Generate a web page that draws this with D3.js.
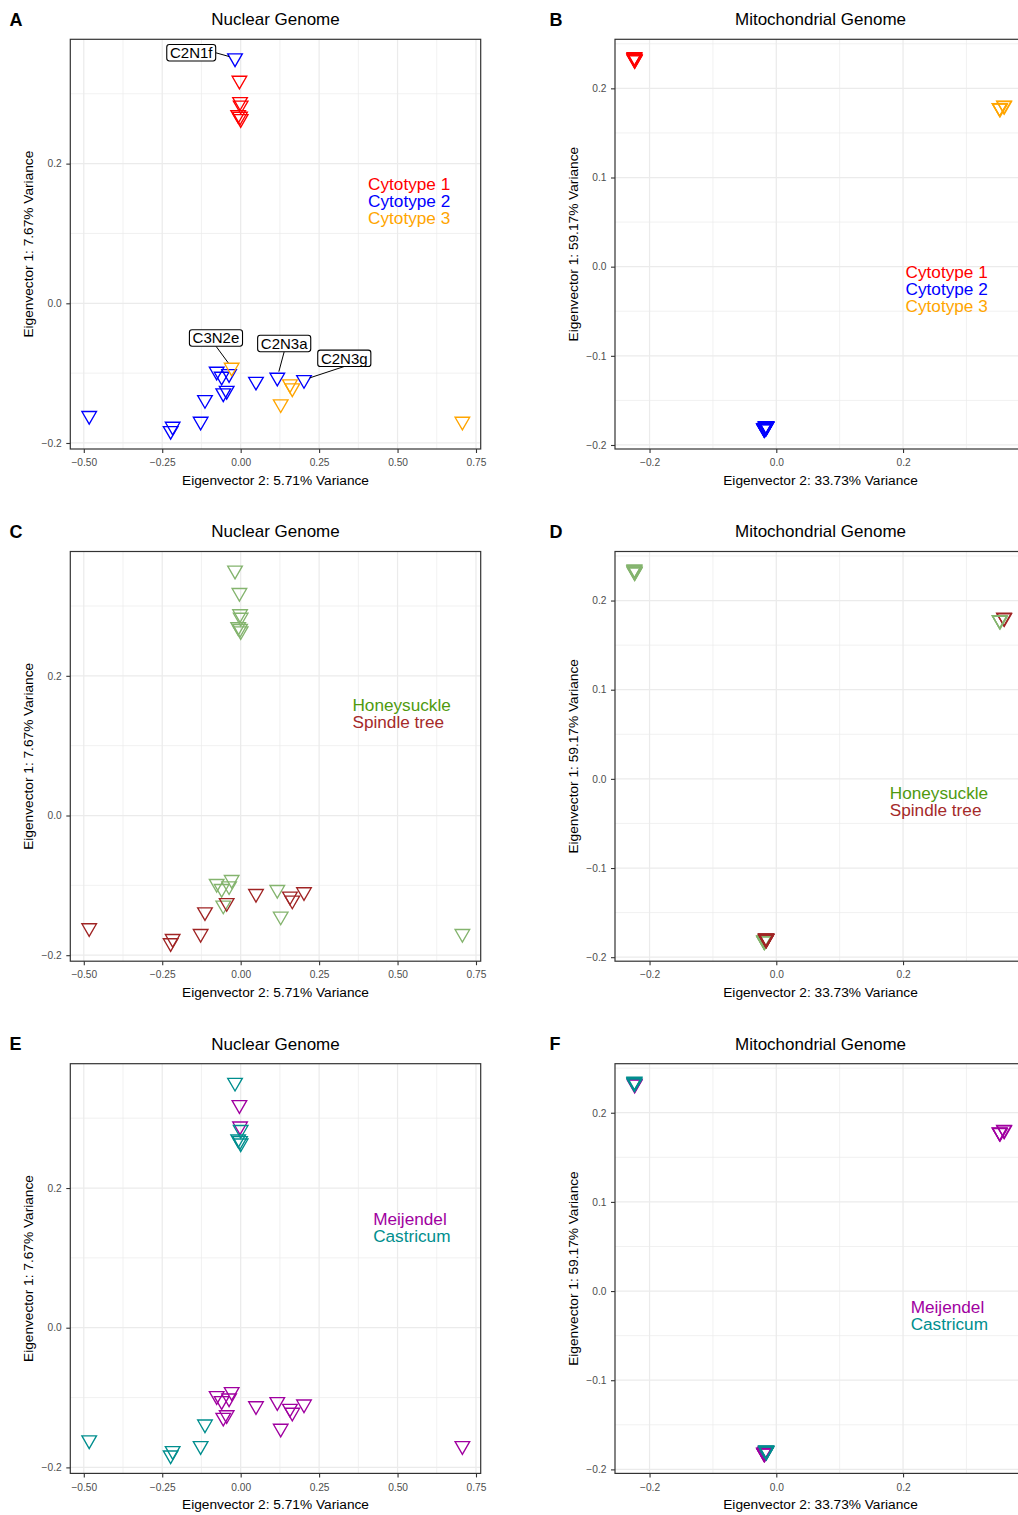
<!DOCTYPE html>
<html>
<head>
<meta charset="utf-8">
<script src="https://cdn.jsdelivr.net/npm/d3@7"></script>
<style>
  body { margin: 0; background: #ffffff; }
  text { font-family: "Liberation Sans", Arial, Helvetica, sans-serif; }
</style>
</head>
<body>
<svg id="fig" width="1018" height="1515"></svg>
<script>
// ---------------- sample data (sorted by sample name, cytotype first) ----------------
const sampleLabels = [
  "", "", "", "", "", "",
  "C2N1f", "", "", "", "C2N3a", "", "", "C2N3g", "", "", "", "", "", "",
  "C3N2e", "", "", "", ""
];
const cytotype = [
  1, 1, 1, 1, 1, 1,
  2, 2, 2, 2, 2, 2, 2, 2, 2, 2, 2, 2, 2, 2,
  3, 3, 3, 3, 3
];
const host = [
  "Honeysuckle", "Honeysuckle", "Honeysuckle", "Honeysuckle", "Honeysuckle", "Honeysuckle",
  "Honeysuckle", "Honeysuckle", "Honeysuckle", "Honeysuckle", "Honeysuckle", "Honeysuckle",
  "Spindle tree", "Spindle tree", "Spindle tree", "Spindle tree", "Spindle tree", "Spindle tree",
  "Spindle tree", "Spindle tree",
  "Honeysuckle", "Spindle tree", "Spindle tree", "Honeysuckle", "Honeysuckle"
];
const site = [
  "Meijendel", "Meijendel", "Castricum", "Castricum", "Castricum", "Castricum",
  "Castricum", "Meijendel", "Meijendel", "Meijendel", "Meijendel", "Meijendel",
  "Meijendel", "Meijendel", "Meijendel", "Castricum", "Castricum", "Castricum",
  "Castricum", "Castricum",
  "Meijendel", "Meijendel", "Meijendel", "Meijendel", "Meijendel"
];

// nuclear genome PCA scores
const nuclearEV2 = [
  -0.004, -0.002, 0.000, -0.008, -0.002, 0.000,
  -0.018, -0.0765, -0.0606, -0.037, 0.1167, -0.0555,
  0.0488, 0.2018, -0.0446, -0.1138, -0.4828, -0.2168, -0.2232, -0.1276,
  -0.0287, 0.157, 0.1645, 0.1276, 0.7066
];
const nuclearEV1 = [
  0.319, 0.2885, 0.2835, 0.2699, 0.2675, 0.2641,
  0.351, -0.0976, -0.1048, -0.101, -0.1062, -0.1286,
  -0.112, -0.1095, -0.1250, -0.1382, -0.161, -0.1764, -0.1825, -0.1692,
  -0.0919, -0.1157, -0.1214, -0.1443, -0.1692
];

// mitochondrial genome PCA scores
const mitoEV2 = [
  -0.2235, -0.2232, -0.2240, -0.2238, -0.2243, -0.2236,
  -0.0175, -0.0190, -0.0195, -0.0185, -0.0190, -0.0192,
  -0.0165, -0.0160, -0.0168, -0.0158, -0.0155, -0.0160, -0.0162, -0.0157,
  0.3526, 0.3592, 0.3597, 0.3530, 0.3522
];
const mitoEV1 = [
  0.2318, 0.2325, 0.2345, 0.2352, 0.2338, 0.2330,
  -0.1805, -0.1815, -0.1810, -0.1820, -0.1812, -0.1818,
  -0.1795, -0.1798, -0.1790, -0.1792, -0.1788, -0.1795, -0.1785, -0.1798,
  0.1780, 0.1810, 0.1805, 0.1775, 0.1782
];

// axis breaks and limits
const nuclearXTicks = [-0.5, -0.25, 0, 0.25, 0.5, 0.75];
const nuclearYTicks = [-0.2, 0, 0.2];
const mitoXTicks = [-0.2, 0, 0.2];
const mitoYTicks = [-0.2, -0.1, 0, 0.1, 0.2];
const nuclearXDomain = [-0.543, 0.765];
const nuclearYDomain = [-0.2086, 0.378];
const mitoXDomain = [-0.2545, 0.394];
const mitoYDomain = [-0.2045, 0.255];

// grouping levels and colours
const cytotypeLevels = [1, 2, 3];
const cytotypeNames = ["Cytotype 1", "Cytotype 2", "Cytotype 3"];
const cytotypeColors = ["#FF0000", "#0000FF", "#FFA500"];
const hostLevels = ["Honeysuckle", "Spindle tree"];
const hostPointColors = ["#84B46E", "#A02424"];
const hostTextColors = ["#4F9A0F", "#A52A2A"];
const siteLevels = ["Meijendel", "Castricum"];
const siteColors = ["#A000A0", "#008E8E"];

// ---------------- layout ----------------
const ROW_STEP = 512.2;
const COLS = [{ left: 70.3, right: 480.7 }, { left: 615, right: 1026 }];
const PLOT_TOP = 39.3, PLOT_BOTTOM = 449;
const TRI_SIDE = 14.6, TRI_STROKE = 1.35;

const genomes = {
  nuclear: {
    title: "Nuclear Genome", xs: nuclearEV2, ys: nuclearEV1,
    xDomain: nuclearXDomain, yDomain: nuclearYDomain,
    xTicks: nuclearXTicks, yTicks: nuclearYTicks, xFmt: ".2f", yFmt: ".1f",
    xTitle: "Eigenvector 2: 5.71% Variance", yTitle: "Eigenvector 1: 7.67% Variance"
  },
  mito: {
    title: "Mitochondrial Genome", xs: mitoEV2, ys: mitoEV1,
    xDomain: mitoXDomain, yDomain: mitoYDomain,
    xTicks: mitoXTicks, yTicks: mitoYTicks, xFmt: ".1f", yFmt: ".1f",
    xTitle: "Eigenvector 2: 33.73% Variance", yTitle: "Eigenvector 1: 59.17% Variance"
  }
};

const groupings = {
  cytotype: { values: cytotype, levels: cytotypeLevels, names: cytotypeNames,
              point: cytotypeColors, text: cytotypeColors },
  host: { values: host, levels: hostLevels, names: hostLevels,
          point: hostPointColors, text: hostTextColors },
  site: { values: site, levels: siteLevels, names: siteLevels,
          point: siteColors, text: siteColors }
};

// legend anchor (data units: left edge, first baseline)
const panels = [
  { letter: "A", row: 0, col: 0, genome: "nuclear", group: "cytotype", legend: [0.406, 0.162], labels: true },
  { letter: "B", row: 0, col: 1, genome: "mito", group: "cytotype", legend: [0.204, -0.0127] },
  { letter: "C", row: 1, col: 0, genome: "nuclear", group: "host", legend: [0.3562, 0.1496] },
  { letter: "D", row: 1, col: 1, genome: "mito", group: "host", legend: [0.179, -0.0225] },
  { letter: "E", row: 2, col: 0, genome: "nuclear", group: "site", legend: [0.4222, 0.147] },
  { letter: "F", row: 2, col: 1, genome: "mito", group: "site", legend: [0.212, -0.0246] }
];

// repelled label placement: box centre offset from the point, in px
const labelOffsets = {
  "C2N1f": [-43.8, -5.4],
  "C3N2e": [-15.7, -29.5],
  "C2N3a": [6.9, -34],
  "C2N3g": [40.3, -21.5]
};

const svg = d3.select("#fig");
svg.append("rect").attr("width", 1018).attr("height", 1515).attr("fill", "#fff");

function minorBreaks(ticks, domain) {
  const step = ticks[1] - ticks[0];
  const out = [];
  for (let i = -1; i < ticks.length; i++) {
    const m = ticks[0] + (i + 0.5) * step;
    if (m > domain[0] && m < domain[1]) out.push(m);
  }
  return out;
}

const triPath = (() => {
  const s = TRI_SIDE, h = s * Math.sqrt(3) / 2;
  return `M${-s / 2},${-h / 3}L${s / 2},${-h / 3}L0,${2 * h / 3}Z`;
})();

panels.forEach((p, pi) => {
  const g = genomes[p.genome];
  const grp = groupings[p.group];
  const oy = p.row * ROW_STEP;
  const L = COLS[p.col].left, R = COLS[p.col].right;
  const T = PLOT_TOP + oy, B = PLOT_BOTTOM + oy;

  const x = d3.scaleLinear().domain(g.xDomain).range([L, R]);
  const y = d3.scaleLinear().domain(g.yDomain).range([B, T]);

  const root = svg.append("g").attr("class", "panel-" + p.letter);

  // panel letter and title
  root.append("text").attr("x", p.col === 0 ? 9.5 : 549.5).attr("y", 25.5 + oy)
    .attr("font-size", 18).attr("font-weight", "bold").attr("fill", "#000").text(p.letter);
  root.append("text").attr("x", (L + R) / 2).attr("y", 25.1 + oy)
    .attr("text-anchor", "middle").attr("font-size", 17).attr("fill", "#000").text(g.title);

  // grid
  const grid = root.append("g");
  minorBreaks(g.xTicks, g.xDomain).forEach(v => grid.append("line")
    .attr("x1", x(v)).attr("x2", x(v)).attr("y1", T).attr("y2", B)
    .attr("stroke", "#EBEBEB").attr("stroke-width", 0.7));
  minorBreaks(g.yTicks, g.yDomain).forEach(v => grid.append("line")
    .attr("x1", L).attr("x2", R).attr("y1", y(v)).attr("y2", y(v))
    .attr("stroke", "#EBEBEB").attr("stroke-width", 0.7));
  g.xTicks.forEach(v => grid.append("line")
    .attr("x1", x(v)).attr("x2", x(v)).attr("y1", T).attr("y2", B)
    .attr("stroke", "#EBEBEB").attr("stroke-width", 1.25));
  g.yTicks.forEach(v => grid.append("line")
    .attr("x1", L).attr("x2", R).attr("y1", y(v)).attr("y2", y(v))
    .attr("stroke", "#EBEBEB").attr("stroke-width", 1.25));

  // axes
  const xAxis = root.append("g").attr("transform", `translate(0,${B})`)
    .call(d3.axisBottom(x).tickValues(g.xTicks).tickFormat(d3.format(g.xFmt))
      .tickSize(4).tickPadding(6));
  const yAxis = root.append("g").attr("transform", `translate(${L},0)`)
    .call(d3.axisLeft(y).tickValues(g.yTicks).tickFormat(d3.format(g.yFmt))
      .tickSize(4).tickPadding(4.6));
  [xAxis, yAxis].forEach(a => {
    a.select(".domain").remove();
    a.selectAll(".tick line").attr("stroke", "#333333").attr("stroke-width", 1.1);
    a.selectAll(".tick text").attr("fill", "#4D4D4D").attr("font-size", 10.2)
      .attr("font-family", "'Liberation Sans', Arial, sans-serif");
  });

  // axis titles
  root.append("text").attr("x", (L + R) / 2).attr("y", 485 + oy)
    .attr("text-anchor", "middle").attr("font-size", 13.7).attr("fill", "#000").text(g.xTitle);
  const ytx = L - 37, yty = (T + B) / 2;
  root.append("text").attr("transform", `translate(${ytx},${yty}) rotate(-90)`)
    .attr("text-anchor", "middle").attr("font-size", 13.7).attr("fill", "#000").text(g.yTitle);

  // points
  const clipId = "clip" + pi;
  root.append("clipPath").attr("id", clipId).append("rect")
    .attr("x", L).attr("y", T).attr("width", R - L).attr("height", B - T);
  const pts = root.append("g").attr("clip-path", `url(#${clipId})`);
  const idx = d3.range(g.xs.length);
  pts.selectAll("path").data(idx).join("path")
    .attr("d", triPath)
    .attr("transform", i => `translate(${x(g.xs[i])},${y(g.ys[i])})`)
    .attr("fill", "none")
    .attr("stroke", i => grp.point[grp.levels.indexOf(grp.values[i])])
    .attr("stroke-width", TRI_STROKE)
    .attr("stroke-linejoin", "miter");

  // legend text
  grp.names.forEach((name, k) => {
    root.append("text")
      .attr("x", x(p.legend[0]))
      .attr("y", y(p.legend[1]) + k * 17.1)
      .attr("font-size", 17.2).attr("fill", grp.text[k]).text(name);
  });

  // repelled sample labels
  if (p.labels) {
    idx.filter(i => sampleLabels[i]).forEach(i => {
      const px = x(g.xs[i]), py = y(g.ys[i]);
      const off = labelOffsets[sampleLabels[i]];
      const cx = px + off[0], cy = py + off[1];
      const lg = root.append("g");
      const rect = lg.append("rect");
      const t = lg.append("text").attr("x", cx).attr("y", cy + 5.4)
        .attr("text-anchor", "middle").attr("font-size", 15).attr("fill", "#000")
        .text(sampleLabels[i]);
      const w = t.node().getComputedTextLength() + 6.4, h = 16.4;
      const x1 = cx - w / 2, x2 = cx + w / 2, y1 = cy - h / 2, y2 = cy + h / 2;
      rect.attr("x", x1).attr("y", y1).attr("width", w).attr("height", h)
        .attr("rx", 2.6).attr("fill", "#fff").attr("stroke", "#000").attr("stroke-width", 1.1);
      // segment from nearest box side to the point
      let sx, sy;
      if (py > y2) { sx = cx; sy = y2; }
      else if (py < y1) { sx = cx; sy = y1; }
      else if (px > x2) { sx = x2; sy = cy; }
      else { sx = x1; sy = cy; }
      const dx = px - sx, dy = py - sy, len = Math.hypot(dx, dy);
      const shrink = 6;
      root.insert("line", () => lg.node())
        .attr("x1", sx).attr("y1", sy)
        .attr("x2", px - dx / len * shrink).attr("y2", py - dy / len * shrink)
        .attr("stroke", "#000").attr("stroke-width", 1);
    });
  }

  // panel border
  root.append("rect").attr("x", L).attr("y", T).attr("width", R - L).attr("height", B - T)
    .attr("fill", "none").attr("stroke", "#333333").attr("stroke-width", 1.2);
});
</script>
</body>
</html>
